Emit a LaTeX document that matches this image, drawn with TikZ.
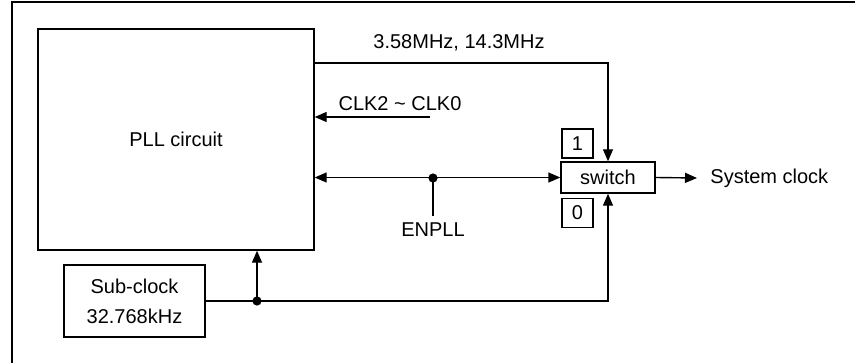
\documentclass[tikz,border=0pt]{standalone}
\usepackage{fontspec}
\setmainfont{Liberation Sans}
\usetikzlibrary{arrows.meta,positioning,calc}

\begin{document}
\begin{tikzpicture}[
    x=0.5pt, y=-0.5pt,
    font=\fontsize{10}{15}\selectfont,
    >={Triangle[length=6pt,width=5pt]},
    box/.style={draw, line width=0.7pt, align=center, inner sep=0pt},
    tag/.style={box, minimum width=15.5pt, minimum height=14.5pt},
    lbl/.style={inner sep=0pt},
    arrow/.style={->, line width=0.7pt},
    wire/.style={line width=0.7pt}
]
\useasboundingbox (0,0) rectangle (855,363);
% frame
\draw[line width=1pt] (855,2) -- (12,2) -- (12,363);
% blocks
\node[box, minimum width=138pt, minimum height=110.5pt] (pll) at (176,139.5) {PLL circuit};
\node[box, minimum width=70.5pt, minimum height=36pt] (sub) at (134.5,301) {Sub-clock\\32.768kHz};
\node[box, minimum width=47pt, minimum height=15.5pt] (switch) at (608,177.5) {switch};
\node[tag] (sel1) at (577.5,143.5) {1};
\node[tag] (sel0) at (577.5,213) {0};
% labels
\node[lbl] (hflbl) at (459,43) {3.58MHz, 14.3MHz};
\node[lbl] (clklbl) at (400,104) {CLK2 \textasciitilde{} CLK0};
\node[lbl, anchor=base] (enlbl) at (433,236) {ENPLL};
\node[lbl, anchor=west, inner xsep=6.5pt] (sysclk) at (697,178) {System clock};
% connection points
\coordinate (hfout) at (314,63);
\coordinate (clkin) at (430,117);
\coordinate (entap) at (433,178);
\coordinate (subtap) at (257,301);
% connectors
\draw[arrow] (hfout) -| (switch.north);
\draw[arrow] (clkin) -- (clkin -| pll.east);
\draw[wire, <->] (pll.east |- switch.west) -- (switch.west);
\draw[wire] (entap) -- ([yshift=3pt]enlbl.north);
\fill (entap) circle (2.3pt);
\draw[arrow] (switch.east) -- (sysclk.west);
\draw[arrow] (sub.east) -| (switch.south);
\draw[arrow] (subtap) -- (subtap |- pll.south);
\fill (subtap) circle (2.3pt);
\end{tikzpicture}
\end{document}
